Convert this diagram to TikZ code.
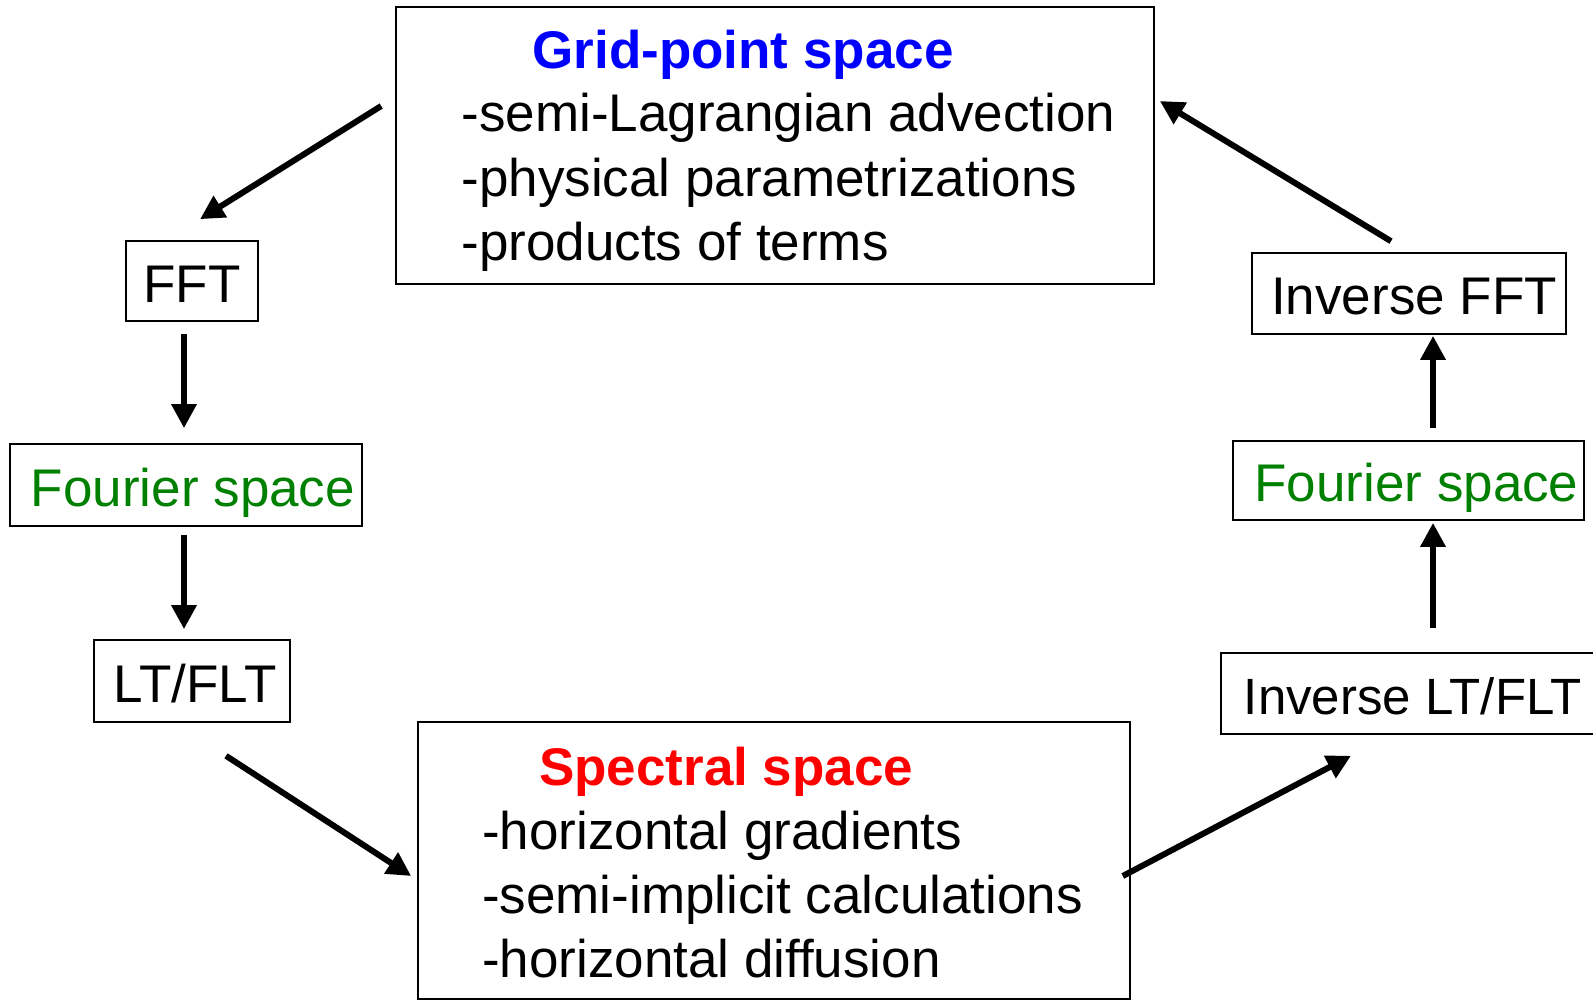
\documentclass[tikz,border=0pt]{standalone}
\usepackage{fontspec}
\setmainfont{Liberation Sans}
\usetikzlibrary{arrows.meta,calc}
\definecolor{gridblue}{RGB}{0,0,255}
\definecolor{specred}{RGB}{255,0,0}
\definecolor{fourgreen}{RGB}{0,128,0}
\tikzset{
 box/.style={draw=black, line width=0.8pt, inner sep=0pt, font=\fontsize{26.5pt}{32pt}\selectfont, align=left},
 onebox/.style={box, text height=21pt, text depth=0pt},
 arr/.style={line width=3pt, -{Triangle[length=12pt,width=12pt]}},
}
\begin{document}
\begin{tikzpicture}[x=0.5pt,y=-0.5pt]
\useasboundingbox (0,0) rectangle (1593,1000);
% boxes
\node[box, minimum width=379pt, minimum height=138.5pt] (grid) at (775,145.5)
 {\rule{0pt}{24pt}\hspace*{49pt}\textcolor{gridblue}{\bfseries Grid-point space}\\
  \hspace*{13.5pt}-semi-Lagrangian advection\\
  \hspace*{13.5pt}-physical parametrizations\\
  \hspace*{13.5pt}-products of terms};
\node[onebox, minimum width=66pt, minimum height=40pt] (fft) at (192,281) {FFT};
\node[onebox, minimum width=176pt, minimum height=41pt, text=fourgreen] (four1) at (186,485) {\hspace*{7pt}Fourier space};
\node[onebox, minimum width=98pt, minimum height=41pt] (lt) at (192,681) {\hspace*{3pt}LT/FLT};
\node[box, minimum width=356pt, minimum height=138.5pt] (spec) at (774,860.5)
 {\rule{0pt}{21.6pt}\hspace*{37pt}\textcolor{specred}{\bfseries Spectral space}\\
  \hspace*{8.5pt}-horizontal gradients\\
  \hspace*{8.5pt}-semi-implicit calculations\\
  \hspace*{8.5pt}-horizontal diffusion};
\node[onebox, anchor=west, minimum height=40.5pt, inner xsep=11.5pt, font=\fontsize{25.5pt}{31pt}\selectfont] (ilt) at (1220,693.5) {Inverse LT/FLT};
\node[onebox, minimum width=175.5pt, minimum height=39.5pt, text=fourgreen] (four2) at (1408.5,480.5) {\hspace*{8pt}Fourier space};
\node[onebox, minimum width=157pt, minimum height=40.5pt] (ifft) at (1409,293.5) {\hspace*{5pt}Inverse FFT};
% arrows
\draw[arr] ($(grid.west)+(-14,-39.5)$) -- ($(fft.north)+(8,-21)$);
\draw[arr] ($(fft.south)+(-8,12)$) -- ($(four1.north)+(-2,-15)$);
\draw[arr] ($(four1.south)+(-2,8)$) -- ($(lt.north)+(-8,-10)$);
\draw[arr] ($(lt.south)+(34,33)$) -- ($(spec.west)+(-6,15.5)$);
\draw[arr] ($(spec.east)+(-8,15.5)$) -- ($(ilt.south west)+(131,21)$);
\draw[arr] ($(ilt.north west)+(213,-24)$) -- ($(four2.south)+(24.5,2)$);
\draw[arr] ($(four2.north)+(24.5,-12)$) -- ($(ifft.south)+(24,1)$);
\draw[arr] ($(ifft.north)+(-18,-11)$) -- ($(grid.east)+(5,-44.5)$);
\end{tikzpicture}
\end{document}
